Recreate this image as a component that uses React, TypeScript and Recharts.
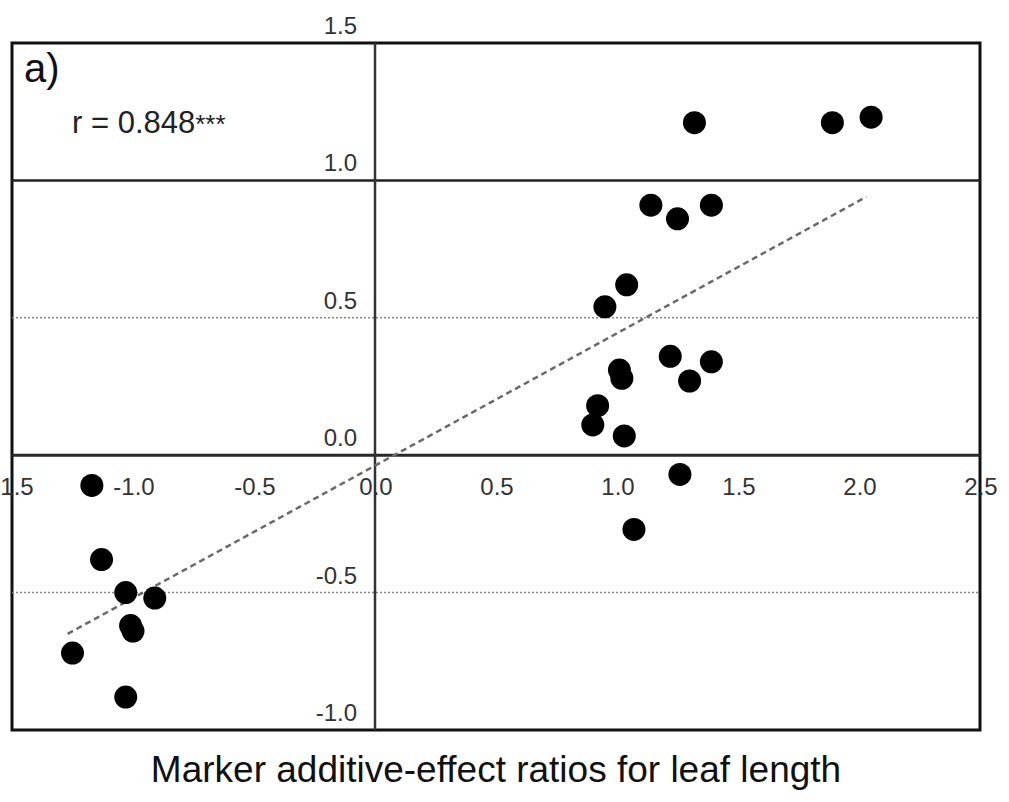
import {
  ScatterChart,
  Scatter,
  XAxis,
  YAxis,
  ReferenceLine,
  ReferenceArea,
  ReferenceDot,
} from "recharts"

// marker additive-effect ratios (x) vs. leaf length effect (y)
const ratioX = [
  -1.17, -1.13, -1.03, -0.91, -1.01, -1.0, -1.25, -1.03,
  1.32, 1.89, 2.05, 1.14, 1.25, 1.39, 1.04, 0.95, 1.22, 1.39, 1.3,
  1.01, 1.02, 0.92, 0.9, 1.03, 1.26, 1.07,
]
const ratioY = [
  -0.11, -0.38, -0.5, -0.52, -0.62, -0.64, -0.72, -0.88,
  1.21, 1.21, 1.23, 0.91, 0.86, 0.91, 0.62, 0.54, 0.36, 0.34, 0.27,
  0.31, 0.28, 0.18, 0.11, 0.07, -0.07, -0.27,
]
const fitLine = [
  { x: -1.27, y: -0.65 },
  { x: 2.03, y: 0.94 },
]
const xTicks = [-1.5, -1.0, -0.5, 0.0, 0.5, 1.0, 1.5, 2.0, 2.5]
const yTicks = [-1.0, -0.5, 0.0, 0.5, 1.0, 1.5]

const points = ratioX.map((x, i) => ({ x, y: ratioY[i] }))

const FONT = '"Liberation Sans", Arial, sans-serif'
const tickStyle = { fontFamily: FONT, fontSize: 24, fill: "#333" }

const Dot = (p: any) => <circle cx={p.cx} cy={p.cy} r={11.5} fill="#000" />

export default function App() {
  return (
    <div style={{ position: "absolute", left: 0, top: 0, width: 1009, height: 802, background: "#fff" }}>
      <ScatterChart width={1009} height={802} margin={{ top: 43, right: 29, bottom: 72, left: 12 }}>
        <XAxis type="number" dataKey="x" domain={[-1.5, 2.5]} hide allowDataOverflow />
        <YAxis type="number" dataKey="y" domain={[-1, 1.5]} hide allowDataOverflow />

        <ReferenceLine y={0.5} stroke="#888" strokeDasharray="2 2" strokeWidth={1.5} />
        <ReferenceLine y={-0.5} stroke="#888" strokeDasharray="2 2" strokeWidth={1.5} />
        <ReferenceLine y={1} stroke="#222" strokeWidth={2.5} />
        <ReferenceLine y={0} stroke="#2a2a2a" strokeWidth={3} />
        <ReferenceLine x={0} stroke="#333" strokeWidth={2.5} />
        <ReferenceArea x1={-1.5} x2={2.5} y1={-1} y2={1.5} fill="none" stroke="#111" strokeWidth={3} />
        <ReferenceLine
          segment={fitLine}
          stroke="#6a6a6a"
          strokeWidth={2.5}
          strokeDasharray="6 4"
        />

        {xTicks.map((t) => (
          <ReferenceDot
            key={"x" + t}
            x={t}
            y={0}
            r={0}
            fill="none"
            stroke="none"
            label={(p: any) => (
              <text x={p.viewBox.x + 1} y={p.viewBox.y + 40} textAnchor="middle" style={tickStyle}>
                {t.toFixed(1)}
              </text>
            )}
          />
        ))}
        {yTicks.map((t) => (
          <ReferenceDot
            key={"y" + t}
            x={0}
            y={t}
            r={0}
            fill="none"
            stroke="none"
            label={(p: any) => (
              <text x={p.viewBox.x - 18} y={p.viewBox.y - 9} textAnchor="end" style={tickStyle}>
                {t.toFixed(1)}
              </text>
            )}
          />
        ))}

        <Scatter data={points} shape={Dot} isAnimationActive={false} />
      </ScatterChart>

      <div style={{ position: "absolute", left: 24, top: 48, fontFamily: FONT, fontSize: 40, color: "#111", lineHeight: 1 }}>
        a)
      </div>
      <div style={{ position: "absolute", left: 72, top: 107, fontFamily: FONT, fontSize: 31, color: "#222", lineHeight: 1 }}>
        r = 0.848<span style={{ fontSize: 26 }}>***</span>
      </div>
      <div
        style={{
          position: "absolute",
          left: 0,
          width: 992,
          top: 751,
          textAlign: "center",
          fontFamily: FONT,
          fontSize: 37,
          color: "#111",
          lineHeight: 1,
        }}
      >
        Marker additive-effect ratios for leaf length
      </div>
    </div>
  )
}
